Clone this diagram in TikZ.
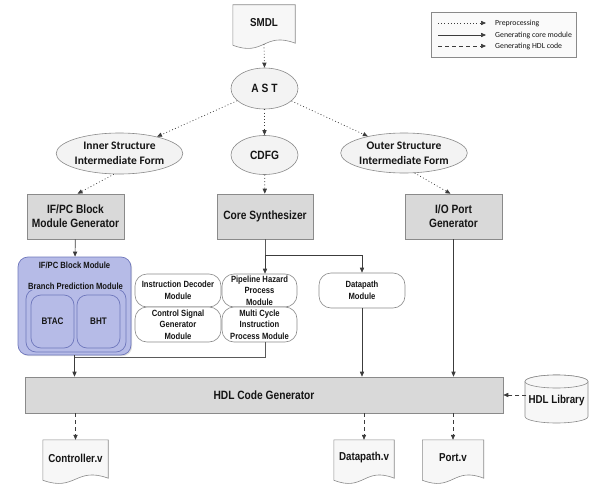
\documentclass[tikz,border=0pt]{standalone}
\usepackage{fontspec}
\setmainfont{Liberation Sans}
\newfontfamily\narrowsans[FakeStretch=0.85]{Liberation Sans}
\newfontfamily\calib{Carlito}
\usetikzlibrary{arrows.meta,calc,shapes.geometric,shadows}
\definecolor{linec}{HTML}{5A5A5A}
\definecolor{tipc}{HTML}{3C3C3C}
\definecolor{boxfill}{HTML}{D9D9D9}
\definecolor{boxdraw}{HTML}{8A8A8A}
\definecolor{ellfill}{HTML}{F3F3F3}
\definecolor{docfill}{HTML}{F7F7F7}
\definecolor{bluefill}{HTML}{B6BBE7}
\definecolor{bluedraw}{HTML}{6F77BC}
\definecolor{textc}{HTML}{151515}
\definecolor{legfill}{HTML}{FAFAFA}
\newcommand\docpath[1]{%
  \draw[docst] (#1.north west) -- (#1.north east) -- ($(#1.south east)+(0,2)$)
    .. controls ($(#1.south)+(0,-10)$) and ($(#1.south)+(0,16)$) .. ($(#1.south west)+(0,4)$) -- cycle;
  \node[font=\narrowsans\bfseries\fontsize{11.5}{13}\selectfont,text=textc] at (#1) {\csname doctext#1\endcsname};}
\begin{document}
\begin{tikzpicture}[x=1pt,y=-1pt,
  conn/.style={draw=linec,line width=0.7pt},
  tip/.style={-{Triangle[length=5pt,width=4.2pt]},tipc},
  dotconn/.style={conn,dash pattern=on 0.9pt off 2.3pt,tip},
  solconn/.style={conn,tip},
  dashconn/.style={conn,dash pattern=on 4pt off 3pt,tip},
  graybox/.style={draw=boxdraw,fill=boxfill,line width=0.6pt,align=center,
     inner sep=1pt,text=textc,font=\narrowsans\bfseries\fontsize{12}{14}\selectfont,
     drop shadow={shadow xshift=1.2pt,shadow yshift=-1.2pt,opacity=0.25}},
  ell/.style={ellipse,draw=boxdraw,fill=ellfill,line width=0.6pt,inner sep=0pt,align=center,text=textc},
  ellA/.style={ell,font=\narrowsans\bfseries\fontsize{12}{14}\selectfont},
  ellC/.style={ell,font=\calib\bfseries\fontsize{11.5}{15}\selectfont},
  modbox/.style={draw=boxdraw,fill=white,line width=0.6pt,rounded corners=12pt,align=center,
     inner sep=0pt,text=textc,font=\narrowsans\bfseries\fontsize{9}{11.5}\selectfont},
  bluebox/.style={draw=bluedraw,fill=bluefill,line width=0.7pt,rounded corners=10pt,inner sep=0pt},
  bluetext/.style={inner sep=0.5pt,text=textc,font=\narrowsans\bfseries\fontsize{9}{11}\selectfont},
  docnode/.style={minimum height=36pt,inner sep=0pt},
  docst/.style={draw=boxdraw,fill=docfill,line width=0.6pt},
  legtext/.style={anchor=west,inner sep=0pt,text=textc,font=\calib\fontsize{7.8}{9}\selectfont}
]
\useasboundingbox (0,0) rectangle (596,484);
\begin{scope}
\clip (0,0) rectangle (596,484);
% documents
\def\doctextsmdl{SMDL}
\def\doctextctrlv{Controller.v}
\def\doctextdpv{Datapath.v}
\def\doctextportv{Port.v}
\node[docnode,minimum width=62pt] (smdl) at (264,23) {};
\node[docnode,minimum width=65pt] (ctrlv) at (75.5,458) {};
\node[docnode,minimum width=60pt] (dpv) at (364,458) {};
\node[docnode,minimum width=61pt] (portv) at (453,458) {};
\docpath{smdl}
\docpath{ctrlv}
\docpath{dpv}
\docpath{portv}
\end{scope}

% legend
\node[draw=boxdraw,fill=legfill,line width=0.6pt,minimum width=145pt,minimum height=45pt,
  drop shadow={shadow xshift=1pt,shadow yshift=-1pt,opacity=0.2}] (legend) at (503.5,34.5) {};
\coordinate (la1) at (438,23); \coordinate (lb1) at (486,23);
\coordinate (la2) at (438,35); \coordinate (lb2) at (486,35);
\coordinate (la3) at (438,46); \coordinate (lb3) at (486,46);
\draw[dotconn] (la1) -- (lb1);
\draw[solconn] (la2) -- (lb2);
\draw[dashconn] (la3) -- (lb3);
\node[legtext] (lt1) at (495,23) {Preprocessing};
\node[legtext] (lt2) at (495,35) {Generating core module};
\node[legtext] (lt3) at (495,46) {Generating HDL code};

% ellipses
\node[ellA,minimum width=67pt,minimum height=41pt] (ast) at (264.5,88.5) {A S T};
\node[ellC,minimum width=95pt,minimum height=41pt] (inner) at (119.5,153.5) {Inner Structure\\Intermediate Form};
\node[ellA,minimum width=67pt,minimum height=39pt] (cdfg) at (264.5,155) {CDFG};
\node[ellC,minimum width=96pt,minimum height=40pt] (outer) at (404,153) {Outer Structure\\Intermediate Form};

% generators
\node[graybox,minimum width=97pt,minimum height=45pt] (ifgen) at (75.5,216.5) {IF/PC Block\\Module Generator};
\node[graybox,minimum width=96pt,minimum height=45pt] (core) at (265,216.5) {Core Synthesizer};
\node[graybox,minimum width=97pt,minimum height=45pt] (iogen) at (453.5,216.5) {I/O Port\\Generator};

% IF/PC block module
\node[bluebox,minimum width=113pt,minimum height=98pt,
  drop shadow={shadow xshift=1.2pt,shadow yshift=-1.2pt,opacity=0.25}] (ifmod) at (74.5,306) {};
\node[bluetext] (ifmodt) at (74.5,265.5) {IF/PC Block Module};
\node[bluebox,fill=bluefill,minimum width=100pt,minimum height=63pt] (bpm) at (76,320.5) {};
\node[bluetext,fill=bluefill] (bpmt) at (75.5,286) {Branch Prediction Module};
\node[bluebox,minimum width=43pt,minimum height=53pt,font=\narrowsans\bfseries\fontsize{9.5}{11}\selectfont,text=textc] (btac) at (52.5,321.5) {BTAC};
\node[bluebox,minimum width=43pt,minimum height=53pt,font=\narrowsans\bfseries\fontsize{9.5}{11}\selectfont,text=textc] (bht) at (98.5,321.5) {BHT};

% core modules
\node[modbox,minimum width=86pt,minimum height=33pt] (idec) at (178,290.5) {Instruction Decoder\\Module};
\node[modbox,minimum width=75pt,minimum height=33pt] (pipe) at (259.5,290.5) {Pipeline Hazard\\Process\\Module};
\node[modbox,minimum width=86pt,minimum height=35pt] (csig) at (178,324.5) {Control Signal\\Generator\\Module};
\node[modbox,minimum width=75pt,minimum height=35pt] (mcyc) at (259.5,324.5) {Multi Cycle\\Instruction\\Process Module};
\node[modbox,minimum width=86pt,minimum height=35pt] (dpm) at (362,290.5) {Datapath\\Module};

% HDL code generator and library
\node[graybox,minimum width=478pt,minimum height=36pt] (hdl) at (264,395) {HDL Code Generator};
\draw[docst] (525,381.5) -- (525,416.5) arc[start angle=180,end angle=360,x radius=31.5pt,y radius=6.5pt]
   -- (588,381.5) arc[start angle=0,end angle=180,x radius=31.5pt,y radius=6.5pt] -- cycle;
\draw[docst] (556.5,381.5) ellipse[x radius=31.5pt,y radius=6.5pt];
\node[inner sep=0pt,text=textc,font=\narrowsans\bfseries\fontsize{11.5}{13}\selectfont] (lib) at (556.5,401) {HDL Library};

% preprocessing connectors
\draw[dotconn] (smdl.south) ++(0,3) -- (ast.north);
\draw[dotconn] (ast) -- (inner);
\draw[dotconn] (ast) -- (outer);
\draw[dotconn] (ast) -- (cdfg);
\draw[dotconn] (cdfg) -- (core);
\draw[dotconn] (inner.255) -- ($(ifgen.north)+(2,0)$);
\draw[dotconn] (outer.-62) -- ($(iogen.north)+(-3,0)$);

% core module connectors
\coordinate (j2) at (265,255);
\coordinate (j1) at (74.5,357);
\draw[solconn] (ifgen) -- (ifmod);
\draw[conn] (core.south) -- (j2);
\draw[solconn] (j2) -- (j2 |- pipe.north);
\draw[solconn] (j2) -| (dpm.north);
\draw[conn] (mcyc.south -| j2) |- (j1);
\draw[solconn] (ifmod.south) -- (ifmod.south |- hdl.north);
\draw[solconn] (dpm.south) -- (dpm.south |- hdl.north);
\draw[solconn] (iogen.south) -- (iogen.south |- hdl.north);

% HDL code connectors
\draw[dashconn] (hdl.east -| lib.west) ++(-2,0) -- (hdl.east);
\draw[dashconn] (hdl.south -| ctrlv.north) -- (ctrlv.north);
\draw[dashconn] (hdl.south -| dpv.north) -- (dpv.north);
\draw[dashconn] (hdl.south -| portv.north) -- (portv.north);
\end{tikzpicture}
\end{document}
